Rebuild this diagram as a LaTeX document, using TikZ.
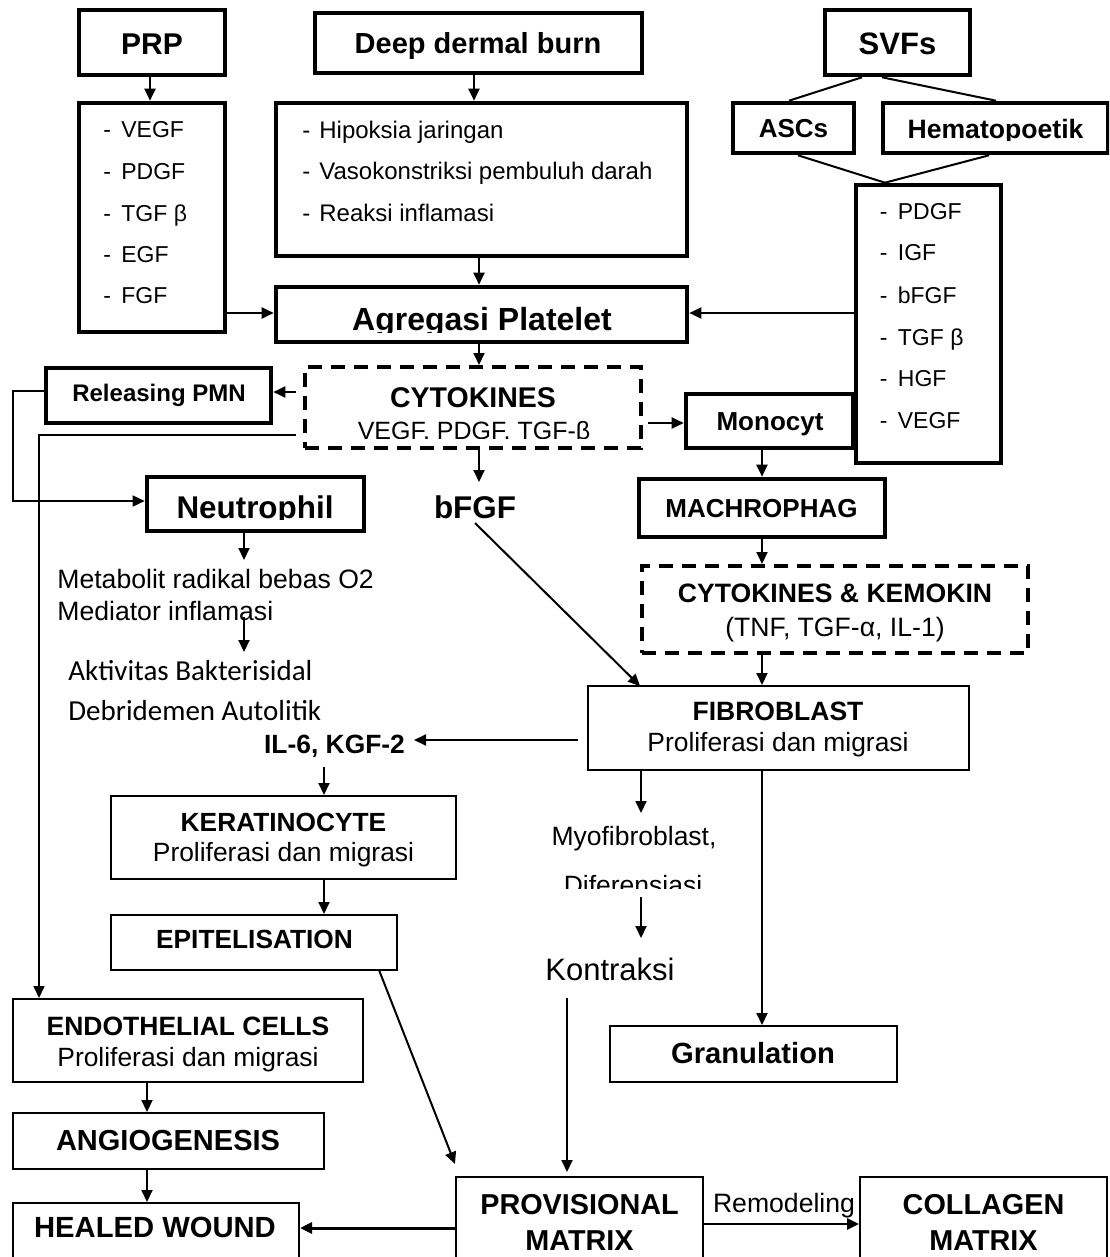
\documentclass[tikz,border=0pt]{standalone}
\usepackage{fontspec}
\setmainfont{Liberation Sans}
\newfontfamily\calib{Carlito}
\usetikzlibrary{fit,arrows.meta,calc}
\newcommand\fsz[1]{\fontsize{#1}{#1}\selectfont}
\begin{document}
\begin{tikzpicture}[x=0.5pt,y=-0.5pt,
  thickbox/.style={draw,line width=2.3pt,inner sep=0pt},
  thinbox/.style={draw,line width=1pt,inner sep=0pt},
  dashbox/.style={draw,line width=2pt,dash pattern=on 7pt off 4.5pt,inner sep=0pt},
  txt/.style={inner sep=0pt,anchor=base},
  ltxt/.style={inner sep=0pt,anchor=base west},
  arr/.style={line width=1pt,-{Triangle[length=6pt,width=5.5pt]}},
  ln/.style={line width=1pt},
  thinln/.style={line width=0.8pt},
]
\clip (0,0) rectangle (1109,1257);
\fill[white] (0,0) rectangle (1109,1257);

% ---------- boxes ----------
\node[thickbox,fit={(79,10) (225,75)}] (prp) {};
\node[thickbox,fit={(79,103) (225,332)}] (prplist) {};
\node[thickbox,fit={(315,13) (642,73)}] (deep) {};
\node[thickbox,fit={(276,103) (687,256)}] (deeplist) {};
\node[thickbox,fit={(276,287) (687,342)}] (agg) {};
\node[thickbox,fit={(825,10) (970,75)}] (svf) {};
\node[thickbox,fit={(733,103) (854,153)}] (ascs) {};
\node[thickbox,fit={(883,103) (1108,153)}] (hem) {};
\node[thickbox,fit={(856,185) (1001,463)}] (svflist) {};
\node[dashbox,fit={(305,367) (641,448)}] (cyto) {};
\node[thickbox,fit={(46,368) (271,423)}] (rpmn) {};
\node[thickbox,fit={(686,394) (853,448)}] (mono) {};
\node[thickbox,fit={(639,479) (885,537)}] (mac) {};
\node[thickbox,fit={(147,477) (364,531)}] (neut) {};
\node[dashbox,fit={(642,566) (1028,653)}] (ck) {};
\node[thinbox,fit={(588,686) (969,770)}] (fib) {};
\node[thinbox,fit={(111,796) (456,879)}] (ker) {};
\node[thinbox,fit={(111,915) (397,970)}] (epi) {};
\node[thinbox,fit={(610,1026) (897,1082)}] (gran) {};
\node[thinbox,fit={(13,999) (363,1082)}] (endo) {};
\node[thinbox,fit={(13,1113) (324,1169)}] (angio) {};
\node[thinbox,fit={(13,1203) (299,1270)}] (healed) {};
\node[thinbox,fit={(456,1177) (703,1270)}] (prov) {};
\node[thinbox,fit={(860,1177) (1107,1270)}] (coll) {};

% ---------- texts ----------
\node[txt] (prpt) at (152,55) {\fsz{15}\bfseries PRP};
\node[txt] (deept) at (478,53.5) {\fsz{14.5}\bfseries Deep dermal burn};
\node[txt] (svft) at (897.5,55) {\fsz{15.5}\bfseries SVFs};
\node[txt] (ascst) at (793.5,138) {\fsz{13}\bfseries ASCs};
\begin{scope}
\clip (883,103) rectangle (1108,140.5);
\node[txt] (hemt) at (995.5,139) {\fsz{13.3}\bfseries Hematopoetik};
\end{scope}

\node[ltxt] (p1) at (103,138) {\fsz{11.5}\makebox[9pt][l]{-}VEGF};
\node[ltxt] (p2) at (103,180) {\fsz{11.5}\makebox[9pt][l]{-}PDGF};
\node[ltxt] (p3) at (103,221) {\fsz{11.5}\makebox[9pt][l]{-}TGF β};
\node[ltxt] (p4) at (103,263) {\fsz{11.5}\makebox[9pt][l]{-}EGF};
\node[ltxt] (p5) at (103,303) {\fsz{11.5}\makebox[9pt][l]{-}FGF};

\node[ltxt] (d1) at (302,139) {\fsz{12}\makebox[8.5pt][l]{-}Hipoksia jaringan};
\node[ltxt] (d2) at (302,180) {\fsz{12}\makebox[8.5pt][l]{-}Vasokonstriksi pembuluh darah};
\node[ltxt] (d3) at (302,221) {\fsz{12}\makebox[8.5pt][l]{-}Reaksi inflamasi};

\node[ltxt] (s1) at (879.5,220) {\fsz{11.5}\makebox[9pt][l]{-}PDGF};
\node[ltxt] (s2) at (879.5,261) {\fsz{11.5}\makebox[9pt][l]{-}IGF};
\node[ltxt] (s3) at (879.5,303) {\fsz{11.5}\makebox[9pt][l]{-}bFGF};
\node[ltxt] (s4) at (879.5,345) {\fsz{11.5}\makebox[9pt][l]{-}TGF β};
\node[ltxt] (s5) at (879.5,386) {\fsz{11.5}\makebox[9pt][l]{-}HGF};
\node[ltxt] (s6) at (879.5,428) {\fsz{11.5}\makebox[9pt][l]{-}VEGF};

\begin{scope}
\clip (276,287) rectangle (687,332.5);
\node[txt] (aggt) at (482,330) {\fsz{16}\bfseries Agregasi Platelet};
\end{scope}

\node[txt] (cytot) at (473,407) {\fsz{14.25}\bfseries CYTOKINES};
\begin{scope}
\clip (305,367) rectangle (641,438.5);
\node[txt] (cytot2) at (474,439.5) {\fsz{12.5}VEGF, PDGF, TGF-β};
\end{scope}
\node[txt] (rpmnt) at (159,401.7) {\fsz{12}\bfseries Releasing PMN};
\node[txt] (monot) at (770,430) {\fsz{13}\bfseries Monocyt};
\node[txt] (mact) at (761.5,517.3) {\fsz{13}\bfseries MACHROPHAG};
\begin{scope}
\clip (147,477) rectangle (364,519);
\node[txt] (neutt) at (255,518.3) {\fsz{15.7}\bfseries Neutrophil};
\end{scope}
\node[txt] (bfgf) at (475,518.3) {\fsz{15.7}\bfseries bFGF};

\node[ltxt] (met1) at (57,588) {\fsz{13.3}Metabolit radikal bebas O2};
\node[ltxt] (met2) at (57,620.7) {\fsz{13.3}Mediator inflamasi};
\node[ltxt] (akt1) at (68,680) {\calib\fsz{14.5}Aktivitas Bakterisidal};
\node[ltxt] (akt2) at (68,720) {\calib\fsz{14.5}Debridemen Autolitik};
\node[txt] (il6) at (334.5,753.3) {\fsz{13.2}\bfseries IL-6, KGF-2};

\node[txt] (ckt1) at (835,602.3) {\fsz{13.3}\bfseries CYTOKINES \& KEMOKIN};
\node[txt] (ckt2) at (835,636.7) {\fsz{13.3}(TNF, TGF-α, IL-1)};
\node[txt] (fibt1) at (778,720.7) {\fsz{13.25}\bfseries FIBROBLAST};
\node[txt] (fibt2) at (778,751.7) {\fsz{13.2}Proliferasi dan migrasi};
\node[txt] (kert1) at (283.5,831.7) {\fsz{13.15}\bfseries KERATINOCYTE};
\node[txt] (kert2) at (283.5,861.7) {\fsz{13.2}Proliferasi dan migrasi};
\node[txt] (epit) at (254.5,948.3) {\fsz{13.15}\bfseries EPITELISATION};
\node[txt] (myo) at (634,845) {\fsz{13.25}Myofibroblast,};
\begin{scope}
\clip (540,860) rectangle (740,888);
\node[txt] (dif) at (633,894) {\fsz{13.25}Diferensiasi};
\end{scope}
\node[txt] (kon) at (610,980) {\fsz{15.5}Kontraksi};
\node[txt] (grant) at (753,1063.3) {\fsz{14.6}\bfseries Granulation};
\node[txt] (endot1) at (188,1035) {\fsz{13.25}\bfseries ENDOTHELIAL CELLS};
\node[txt] (endot2) at (188,1066.7) {\fsz{13.2}Proliferasi dan migrasi};
\node[txt] (angiot) at (168,1150) {\fsz{14.5}\bfseries ANGIOGENESIS};
\node[txt] (healt) at (155,1237) {\fsz{14.6}\bfseries HEALED WOUND};
\node[txt] (provt1) at (579.5,1214) {\fsz{14.4}\bfseries PROVISIONAL};
\node[txt] (provt2) at (579.5,1250) {\fsz{14.4}\bfseries MATRIX};
\node[txt] (collt1) at (983.5,1214) {\fsz{14.4}\bfseries COLLAGEN};
\node[txt] (collt2) at (983.5,1250) {\fsz{14.4}\bfseries MATRIX};
\node[txt] (remod) at (784,1212.7) {\fsz{13.3}Remodeling};

% ---------- helper coordinates ----------
\coordinate (y313) at (0,313);
\coordinate (y392) at (0,392);
\coordinate (y423) at (0,423);
\coordinate (loopA) at (12.7,391);
\coordinate (y501) at (0,501);
\coordinate (loopB) at (39,435);
\coordinate (x479) at (479,0);
\coordinate (bfgfin) at (479,482);
\coordinate (fibin) at (640,686);
\coordinate (neutx) at (244,0);
\coordinate (metarr) at (244,616.7);
\coordinate (metarrend) at (244,652);
\coordinate (il6tip) at (414,740);
\coordinate (il6out) at (324,767);
\coordinate (epiout) at (379,970);
\coordinate (provin) at (455,1164);
\coordinate (myox) at (641,0);
\coordinate (myoend) at (641,813);
\coordinate (difout) at (641,897);
\coordinate (difend) at (641,938);
\coordinate (konout) at (567,998);
\coordinate (konend) at (567,1172);
\coordinate (granx) at (762,0);
\coordinate (endx) at (147,0);
\coordinate (y1228) at (0,1228);
\coordinate (y1224) at (0,1224);

% ---------- connectors ----------
\draw[arr] (prp.south -| 150,0) -- (prplist.north -| 150,0);
\draw[arr] (deep.south -| 474,0) -- (deeplist.north -| 474,0);
\draw[arr] (deeplist.south -| x479) -- (agg.north -| x479);
\draw[arr] (prplist.east |- y313) -- (agg.west |- y313);
\draw[arr] (svflist.west |- y313) -- (agg.east |- y313);
\draw[arr] (agg.south -| x479) -- (cyto.north -| x479);

\draw[ln] ($(svf.south)+(-35.5,0)$) -- ($(ascs.north)+(-4.5,0)$);
\draw[ln] ($(svf.south)+(-15.5,0)$) -- ($(hem.north)+(0.5,0)$);
\draw[ln] ($(ascs.south)+(4.5,0)$) -- ($(svflist.north)+(-43.5,0)$);
\draw[ln] ($(hem.south)+(-6.5,0)$) -- ($(svflist.north)+(-43.5,0)$);

\draw[arr] ([xshift=-3.5pt]cyto.west |- y392) -- (rpmn.east |- y392);
\draw[arr] ([xshift=2.5pt]cyto.east |- y423) -- (mono.west |- y423);
\draw[arr] (cyto.south -| x479) -- (bfgfin);
\draw[arr] (mac.north |- mono.south) -- (mac.north);
\draw[arr] (mac.south) -- (mac.south |- ck.north);
\draw[arr] (mac.south |- ck.south) -- (mac.south |- fib.north);
\draw[arr] ([yshift=-2pt]bfgf.south) -- (fibin);

\draw[thinln,-{Triangle[length=6pt,width=5.5pt]}] (rpmn.west |- loopA) -- (loopA) -- (loopA |- y501) -- (neut.west |- y501);
\draw[thinln,-{Triangle[length=6pt,width=5.5pt]}] ([xshift=-3.5pt]cyto.west |- loopB) -- (loopB) -- (loopB |- endo.north);

\draw[arr] (neut.south -| neutx) -- (neutx |- 0,560);
\draw[arr] (metarr) -- (metarrend);

\draw[arr] ([xshift=-4.5pt]fib.west |- il6tip) -- (il6tip);
\draw[arr] (il6out) -- (il6out |- ker.north);
\draw[arr] (il6out |- ker.south) -- (il6out |- epi.north);
\draw[arr] (epiout) -- (provin);

\draw[arr] (fib.south -| myox) -- (myoend);
\draw[arr] (difout) -- (difend);
\draw[arr] (konout) -- (konend);
\draw[arr] (fib.south -| granx) -- (gran.north -| granx);

\draw[arr] (endo.south -| endx) -- (angio.north -| endx);
\draw[arr] (angio.south -| endx) -- (healed.north -| endx);
\draw[line width=1.5pt,-{Triangle[length=6pt,width=5.5pt]}] (prov.west |- y1228) -- (healed.east |- y1228);
\draw[line width=1.3pt,-{Triangle[length=6pt,width=5.5pt]}] (prov.east |- y1224) -- (coll.west |- y1224);
\end{tikzpicture}
\end{document}
